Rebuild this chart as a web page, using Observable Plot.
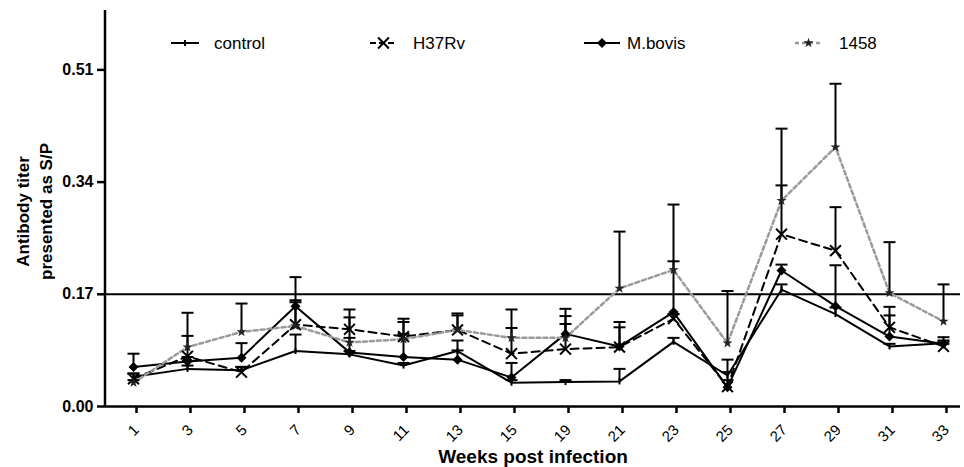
<!DOCTYPE html>
<html><head><meta charset="utf-8">
<script src="https://cdn.jsdelivr.net/npm/d3@7"></script>
<script src="https://cdn.jsdelivr.net/npm/@observablehq/plot@0.6"></script>
<style>
html,body{margin:0;padding:0;background:#fff;}
#chart{width:964px;height:467px;}
</style></head><body><div id="chart"></div>
<script>
// ---- data ----
const weeks = ["1","3","5","7","9","11","13","15","19","21","23","25","27","29","31","33"];
const seriesNames = ["control","H37Rv","M.bovis","1458"];

const control    = [0.045,0.057,0.055,0.084,0.079,0.062,0.084,0.036,0.037,0.038,0.098,0.047,0.177,0.140,0.091,0.096];
const controlErr = [0.050,0.062,0.060,0.109,0.084,0.066,0.100,0.040,0.040,0.057,0.104,0.052,0.185,0.150,0.095,0.100];

const h37rv      = [0.042,0.076,0.052,0.124,0.117,0.106,0.116,0.080,0.087,0.090,0.133,0.030,0.261,0.236,0.120,0.091];
const h37rvErr   = [0.050,0.107,0.060,0.161,0.147,0.133,0.141,0.119,0.125,0.128,0.140,0.040,0.335,0.302,0.151,0.095];

const mbovis     = [0.060,0.068,0.074,0.152,0.082,0.075,0.071,0.044,0.110,0.091,0.143,0.029,0.206,0.152,0.106,0.095];
const mbovisErr  = [0.080,0.075,0.096,0.196,0.104,0.128,0.085,0.066,0.148,0.120,0.306,0.071,0.215,0.214,0.138,0.105];

const s1458      = [0.036,0.090,0.113,0.122,0.097,0.102,0.116,0.104,0.104,0.179,0.207,0.096,0.312,0.393,0.172,0.129];
const s1458Err   = [0.040,0.142,0.156,0.158,0.135,0.110,0.138,0.147,0.137,0.265,0.220,0.175,0.421,0.489,0.249,0.185];

const yTicks = [0, 0.17, 0.34, 0.51];
const cutoff = [0.17];
const xLabel = "Weeks post infection";
const yLabel = "Antibody titer\npresented as S/P";

// ---- build table ----
const valueSets = {
  "control": [control, controlErr],
  "H37Rv": [h37rv, h37rvErr],
  "M.bovis": [mbovis, mbovisErr],
  "1458": [s1458, s1458Err]
};
const rows = [];
for (const name of seriesNames) {
  const [vals, errs] = valueSets[name];
  weeks.forEach((w, i) => rows.push({series: name, week: w, value: vals[i], err: errs[i]}));
}

// ---- styles ----
const FONT = "'Liberation Sans', Arial, sans-serif";
const capSymbol = {draw(ctx) { ctx.moveTo(-6, 0); ctx.lineTo(6, 0); }};
const tickSymbol = {draw(ctx) { ctx.moveTo(0, -3); ctx.lineTo(0, 3); }};
const styles = {
  "control": {stroke: "#000", strokeWidth: 2, dash: null, symbol: tickSymbol, r: 3, fill: "none", mstroke: "#000"},
  "H37Rv":   {stroke: "#000", strokeWidth: 2, dash: "8,5", symbol: "times", r: 5, fill: "none", mstroke: "#000"},
  "M.bovis": {stroke: "#000", strokeWidth: 2, dash: null, symbol: "diamond2", r: 4.5, fill: "#000", mstroke: "none"},
  "1458":    {stroke: "#9a9a9a", strokeWidth: 2.5, dash: "4,3", symbol: "star", r: 3.2, fill: "#222", mstroke: "none"}
};

const lineMarks = seriesNames.map(name => {
  const st = styles[name];
  return Plot.line(rows.filter(d => d.series === name), {
    x: "week", y: "value", stroke: st.stroke, strokeWidth: st.strokeWidth,
    strokeDasharray: st.dash ?? undefined
  });
});
const markerMarks = seriesNames.map(name => {
  const st = styles[name];
  return Plot.dot(rows.filter(d => d.series === name), {
    x: "week", y: "value", symbol: st.symbol, r: st.r, fill: st.fill,
    stroke: st.mstroke, strokeWidth: 2
  });
});

const chart = Plot.plot({
  width: 964,
  height: 467,
  marginLeft: 105,
  marginRight: 4,
  marginTop: 10,
  marginBottom: 61,
  style: {fontFamily: FONT, background: "#fff", color: "#000"},
  x: {type: "point", domain: weeks, range: [131.7, 944.2], padding: 0, label: null},
  y: {domain: [0, 0.6], label: null},
  marks: [
    Plot.ruleY(cutoff, {stroke: "#000", strokeWidth: 2}),
    Plot.ruleY([0], {stroke: "#000", strokeWidth: 2.5}),
    Plot.axisY(yTicks, {tickFormat: ".2f", tickSize: 8, tickPadding: 4, fontSize: 16, fontWeight: "bold", strokeWidth: 2.5, label: null}),
    Plot.axisX({tickRotate: -45, tickSize: 7, tickPadding: 14, dx: 3, fontSize: 15, strokeWidth: 2.5, label: null}),
    ...lineMarks,
    Plot.ruleX(rows, {x: "week", y1: "value", y2: "err", stroke: "#000", strokeWidth: 2}),
    Plot.dot(rows, {x: "week", y: "err", symbol: capSymbol, fill: "none", stroke: "#000", strokeWidth: 2}),
    ...markerMarks,
    Plot.text([xLabel], {frameAnchor: "bottom", dy: 50, fontSize: 19, fontWeight: "bold", lineAnchor: "middle"}),
    Plot.text([yLabel], {frameAnchor: "left", dx: -72, dy: 3, rotate: -90, fontSize: 17, fontWeight: "bold", lineAnchor: "middle", lineHeight: 1.35, textAnchor: "middle"})
  ]
});
document.getElementById("chart").appendChild(chart);

// ---- y axis line and legend (layout only) ----
const svg = d3.select(chart);
svg.append("line")
  .attr("x1", 105).attr("x2", 105).attr("y1", 10).attr("y2", 407)
  .attr("stroke", "#000").attr("stroke-width", 2.5);

const legendLayout = [
  {name: "control", x0: 171, x1: 199, tx: 214},
  {name: "H37Rv",   x0: 370, x1: 397, tx: 413},
  {name: "M.bovis", x0: 584, x1: 620, tx: 627},
  {name: "1458",    x0: 795, x1: 822, tx: 839}
];
const legendY = 43;
const leg = svg.append("g").attr("font-family", FONT).attr("font-size", 17).attr("text-anchor", "start");
const symbolMap = {"times": d3.symbolTimes, "diamond2": d3.symbolDiamond2, "star": d3.symbolStar};
legendLayout.forEach(item => {
  const st = styles[item.name];
  leg.append("line")
    .attr("x1", item.x0).attr("x2", item.x1).attr("y1", legendY).attr("y2", legendY)
    .attr("stroke", st.stroke).attr("stroke-width", st.strokeWidth)
    .attr("stroke-dasharray", item.name === "H37Rv" ? "6,3" : st.dash);
  const cx = (item.x0 + item.x1) / 2;
  let path;
  if (typeof st.symbol === "string") {
    path = d3.symbol(symbolMap[st.symbol], Math.PI * st.r * st.r)();
  } else {
    const p = d3.path(); st.symbol.draw(p); path = p.toString();
  }
  leg.append("path").attr("d", path).attr("transform", `translate(${cx},${legendY})`)
    .attr("fill", st.fill).attr("stroke", st.mstroke).attr("stroke-width", 2);
  leg.append("text").attr("x", item.tx).attr("y", legendY).attr("dy", "0.35em")
    .attr("text-anchor", "start").text(item.name);
});
</script>
</body></html>
